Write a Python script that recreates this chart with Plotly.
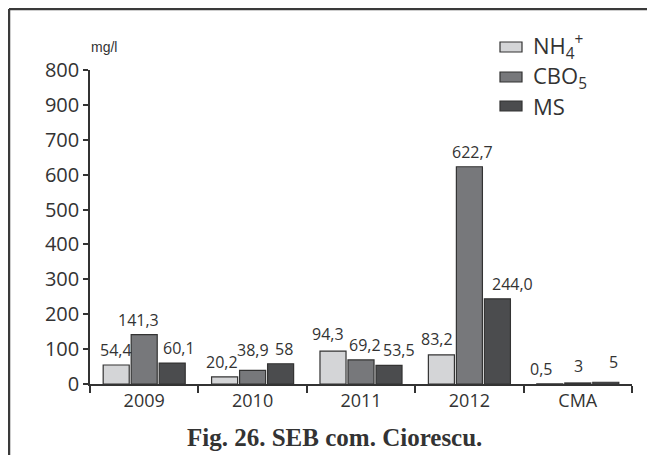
import plotly.graph_objects as go

categories = ["2009", "2010", "2011", "2012", "CMA"]
series_names = ["NH<sub>4</sub><sup>+</sup>", "CBO<sub>5</sub>", "MS"]
nh4 = [54.4, 20.2, 94.3, 83.2, 0.5]
cbo5 = [141.3, 38.9, 69.2, 622.7, 3]
ms = [60.1, 58, 53.5, 244.0, 5]
nh4_labels = ["54,4", "20,2", "94,3", "83,2", "0,5"]
cbo5_labels = ["141,3", "38,9", "69,2", "622,7", "3"]
ms_labels = ["60,1", "58", "53,5", "244,0", "5"]
y_tickvals = [0, 100, 200, 300, 400, 500, 600, 700, 800, 900]
y_ticktext = ["0", "100", "200", "300", "400", "500", "600", "700", "900", "800"]

series = [nh4, cbo5, ms]
labels = [nh4_labels, cbo5_labels, ms_labels]
colors = ["#d4d5d7", "#77787b", "#4b4c4e"]
edge = "#333333"
txt = "#333333"

# label nudges (x px, y px) to match the original placement
nudges = [
    [(0, 0), (-3, 0), (-5, 2), (-4, 1), (-9, 0)],
    [(-6, 0), (0, 5), (4, 0), (3, 0), (1, 2)],
    [(7, 0), (3, 0), (10, 0), (15, 0), (8, 5)],
]

fig = go.Figure()
for vals, name, col in zip(series, series_names, colors):
    fig.add_trace(go.Bar(x=categories, y=vals, name=name,
                         marker=dict(color=col, line=dict(color=edge, width=1.2)),
                         showlegend=False))

annotations = []
slot = 28
for i, (vals, labs) in enumerate(zip(series, labels)):
    for j, (v, lab) in enumerate(zip(vals, labs)):
        nx, ny = nudges[i][j]
        annotations.append(dict(x=j, y=v, xref="x", yref="y", text=lab,
                                showarrow=False, yanchor="bottom",
                                xshift=(i - 1) * slot + nx, yshift=2 + ny,
                                font=dict(family="Open Sans", size=16, color=txt)))

# page body margin offset
OFF = 8
FW, FH = 655 - OFF, 455 - OFF
L, T, H = 90 - OFF, 70 - OFF, 314
W = 542
def px(x):
    return (x - OFF - L) / W
def py(y):
    return (T + H - (y - OFF)) / H

shapes = []
leg_y = [47, 77, 106]
for k, (name, col) in enumerate(zip(series_names, colors)):
    yc = leg_y[k]
    shapes.append(dict(type="rect", xref="paper", yref="paper",
                       x0=px(500), x1=px(522), y0=py(yc + 5), y1=py(yc - 5),
                       fillcolor=col, line=dict(color=edge, width=1.2)))
    annotations.append(dict(x=px(531), y=py(yc), xref="paper", yref="paper",
                            text=name, showarrow=False, xanchor="left", yanchor="middle",
                            font=dict(family="Open Sans", size=22, color=txt)))

# frame lines (top and left)
shapes.append(dict(type="line", xref="paper", yref="paper",
                   x0=px(9), x1=px(660), y0=py(9), y1=py(9),
                   line=dict(color="#3a3a3a", width=2.5)))
shapes.append(dict(type="line", xref="paper", yref="paper",
                   x0=px(9), x1=px(9), y0=py(9), y1=py(460),
                   line=dict(color="#3a3a3a", width=2.5)))

annotations.append(dict(x=px(89), y=py(47), xref="paper", yref="paper", text="mg/l",
                        showarrow=False, yanchor="middle",
                        font=dict(family="Liberation Sans", size=14, color=txt)))
annotations.append(dict(x=px(334), y=py(437), xref="paper", yref="paper",
                        text="<b>Fig. 26. SEB com. Ciorescu.</b>", showarrow=False,
                        yanchor="middle",
                        font=dict(family="Liberation Serif", size=25, color=txt)))

fig.update_layout(
    width=FW, height=FH,
    margin=dict(l=L, r=FW - L - W, t=T, b=FH - T - H),
    paper_bgcolor="white", plot_bgcolor="white",
    barmode="group", bargap=0.225, bargroupgap=0.07,
    annotations=annotations, shapes=shapes,
    xaxis=dict(type="category", range=[-0.5, len(categories) - 0.5],
               showline=True, linecolor=edge, linewidth=1.5, ticks="outside",
               tickson="boundaries", ticklen=7, tickcolor=edge, tickwidth=1.5,
               showgrid=False, tickangle=0,
               tickfont=dict(family="Open Sans", size=18, color=txt)),
    yaxis=dict(range=[0, 900], tickvals=y_tickvals, ticktext=y_ticktext,
               showline=True, linecolor=edge, linewidth=1.5, ticks="outside",
               ticklen=5, tickcolor=edge, tickwidth=1.5, showgrid=False, zeroline=False,
               tickfont=dict(family="Open Sans", size=20, color=txt)),
)

fig.write_html("out.html")
